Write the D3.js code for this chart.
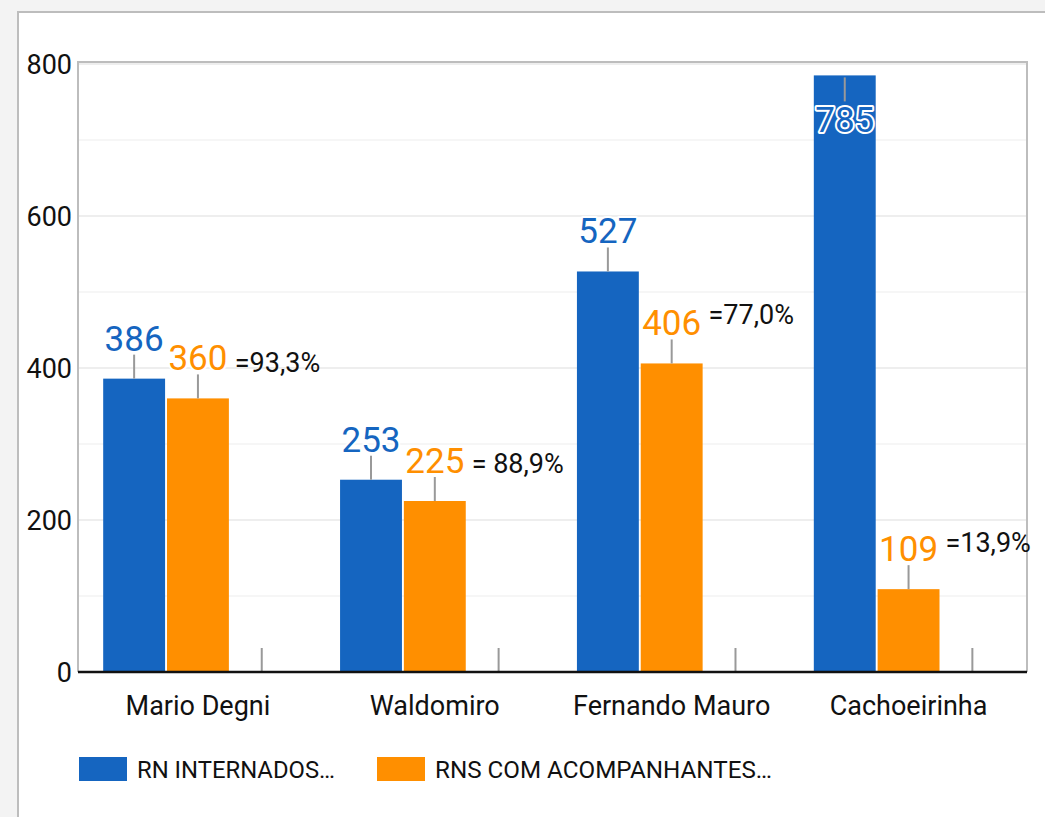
<!DOCTYPE html>
<html>
<head>
<meta charset="utf-8">
<script src="https://cdn.jsdelivr.net/npm/d3@7"></script>
<style>
  html, body { margin: 0; padding: 0; background: #f3f3f3; }
  svg { display: block; font-family: Roboto, "Noto Sans", sans-serif; }
</style>
</head>
<body>
<svg id="chart" width="1045" height="817"></svg>
<script>
let categories = ["Mario Degni", "Waldomiro", "Fernando Mauro", "Cachoeirinha"];
let seriesNames = ["RN INTERNADOS…", "RNS COM ACOMPANHANTES…"];
let internados = [386, 253, 527, 785];
let acompanhantes = [360, 225, 406, 109];
let extra = [0, 0, 0, 0];
let percentLabels = ["=93,3%", "= 88,9%", "=77,0%", "=13,9%"];
let percentAt = [408, 274, 471, 171];
let yTicks = [0, 200, 400, 600, 800];
let yMinor = [100, 300, 500, 700];
let colors = ["#1565c0", "#ff8f00"];

let plot = { left: 78, top: 62, right: 1027, bottom: 672 };

let svg = d3.select("#chart");

// card
svg.append("rect")
    .attr("x", 18).attr("y", 12)
    .attr("width", 1100).attr("height", 900)
    .attr("fill", "#fff")
    .attr("stroke", "#bdbdbd").attr("stroke-width", 2);

let yScale = d3.scaleLinear()
    .domain([0, 800])
    .range([plot.bottom, 64]);

let xScale = d3.scaleBand()
    .domain(categories)
    .range([plot.left + 1.5, plot.right])
    .paddingInner(0.2)
    .paddingOuter(0.1);

let slot = d3.scaleBand()
    .domain(["a", "b", "c"])
    .range([0, xScale.bandwidth()])
    .paddingInner(0.03);

// gridlines
svg.append("g").selectAll("line").data(yMinor).join("line")
    .attr("x1", plot.left).attr("x2", plot.right)
    .attr("y1", d => yScale(d)).attr("y2", d => yScale(d))
    .attr("stroke", "#f3f3f3").attr("stroke-width", 1.5);
svg.append("g").selectAll("line").data(yTicks.slice(1)).join("line")
    .attr("x1", plot.left).attr("x2", plot.right)
    .attr("y1", d => yScale(d)).attr("y2", d => yScale(d))
    .attr("stroke", "#e8e8e8").attr("stroke-width", 1.5);

// frame
svg.append("path")
    .attr("d", `M${plot.left},${plot.bottom}V${plot.top}H${plot.right}V${plot.bottom}`)
    .attr("fill", "none")
    .attr("stroke", "#bdbdbd").attr("stroke-width", 2);

// y tick labels
svg.append("g").selectAll("text").data(yTicks).join("text")
    .attr("x", 72)
    .attr("y", d => yScale(d))
    .attr("dy", "0.36em")
    .attr("text-anchor", "end")
    .attr("font-size", 27)
    .attr("fill", "#111")
    .text(d => d);

// bars
let rows = categories.map((c, i) => ({ cat: c, i: i, vals: [internados[i], acompanhantes[i], extra[i]] }));

let groups = svg.append("g").selectAll("g").data(rows).join("g")
    .attr("transform", d => `translate(${xScale(d.cat)},0)`);

groups.selectAll("rect")
    .data(d => [{ k: "a", v: d.vals[0], s: 0 }, { k: "b", v: d.vals[1], s: 1 }])
    .join("rect")
    .attr("x", d => slot(d.k))
    .attr("width", slot.bandwidth())
    .attr("y", d => yScale(d.v))
    .attr("height", d => yScale(0) - yScale(d.v))
    .attr("fill", d => colors[d.s]);

// annotation stems and values
let annots = groups.selectAll("g.ann")
    .data(d => [{ k: "a", v: d.vals[0], s: 0 }, { k: "b", v: d.vals[1], s: 1 }, { k: "c", v: d.vals[2], s: 2 }])
    .join("g").attr("class", "ann");

annots.each(function (d) {
    let g = d3.select(this);
    let cx = slot(d.k) + slot.bandwidth() / 2;
    let top = yScale(d.v);
    let inside = top - 60 < plot.top;
    let y1 = inside ? top + 2 : top - 24;
    let y2 = inside ? top + 26 : top;
    g.append("line")
        .attr("x1", cx).attr("x2", cx)
        .attr("y1", y1).attr("y2", y2)
        .attr("stroke", "#999").attr("stroke-width", 2);
    if (d.s < 2) {
        g.append("text")
            .attr("x", cx)
            .attr("y", inside ? top + 57 : top - 28)
            .attr("text-anchor", "middle")
            .attr("font-size", 35)
            .attr("fill", colors[d.s])
            .attr("stroke", "#fff").attr("stroke-width", 4)
            .attr("stroke-linejoin", "round")
            .attr("paint-order", "stroke")
            .text(d.v);
    }
});

// percent notes
groups.append("text")
    .attr("x", slot("c") + 4)
    .attr("y", d => yScale(percentAt[d.i]))
    .attr("dy", "0.36em")
    .attr("font-size", 27)
    .attr("fill", "#111")
    .text(d => percentLabels[d.i]);

// baseline
svg.append("line")
    .attr("x1", plot.left).attr("x2", plot.right)
    .attr("y1", yScale(0)).attr("y2", yScale(0))
    .attr("stroke", "#111").attr("stroke-width", 2.5);

// x labels
svg.append("g").selectAll("text").data(categories).join("text")
    .attr("x", d => xScale(d) + xScale.bandwidth() / 2)
    .attr("y", 715)
    .attr("text-anchor", "middle")
    .attr("font-size", 27)
    .attr("fill", "#111")
    .text(d => d);

// legend
let legendX = [79, 377];
let legendW = [198, 337];
let legend = svg.append("g").selectAll("g").data(seriesNames).join("g")
    .attr("transform", (d, i) => `translate(${legendX[i]},757)`);
legend.append("rect")
    .attr("width", 48).attr("height", 24)
    .attr("fill", (d, i) => colors[i]);
legend.append("text")
    .attr("x", 58).attr("y", 21)
    .attr("font-size", 24)
    .attr("fill", "#111")
    .attr("textLength", (d, i) => legendW[i])
    .attr("lengthAdjust", "spacingAndGlyphs")
    .text(d => d);
</script>
</body>
</html>
